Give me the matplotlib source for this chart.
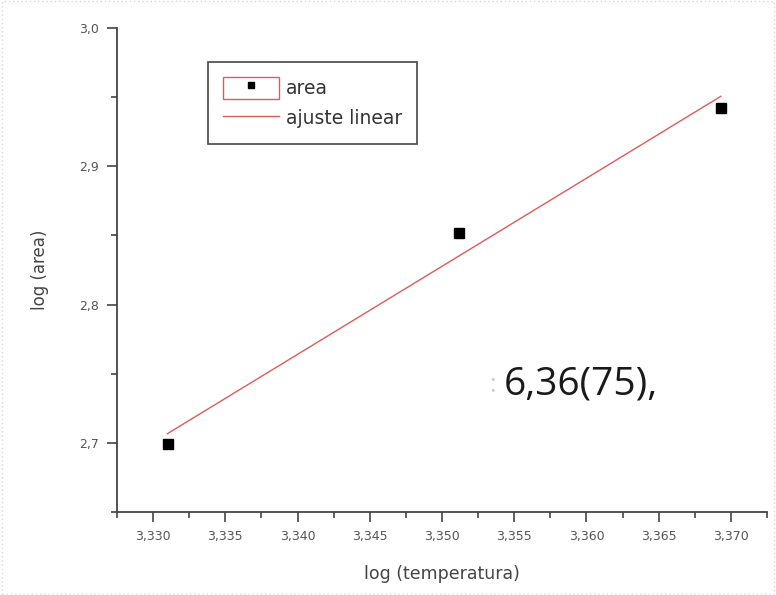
import matplotlib
matplotlib.use("Agg")
import matplotlib.pyplot as plt
import numpy as np
from matplotlib.lines import Line2D
from matplotlib.patches import Patch, Rectangle
from matplotlib.legend_handler import HandlerTuple
from matplotlib.ticker import MultipleLocator, FuncFormatter

# data
log_temp = [3.3310, 3.3512, 3.3693]
log_area = [2.699, 2.8516, 2.942]
slope_text = "6,36(75),"

x_major = 0.005
y_major = 0.1

plt.rcParams["font.family"] = ["DejaVu Sans"]

fig = plt.figure(figsize=(7.76, 5.95), dpi=100)
ax = fig.add_axes([117 / 776, 83 / 595, 650 / 776, 484 / 595])

# faint dotted slide border
fig.patches.append(Rectangle((0.002, 0.002), 0.996, 0.996, transform=fig.transFigure,
                             fill=False, edgecolor="#d8d8d8", linestyle=(0, (1, 2)),
                             linewidth=1))

# linear fit
coef = np.polyfit(log_temp, log_area, 1)
xf = np.array([log_temp[0], log_temp[-1]])
fit_line, = ax.plot(xf, np.polyval(coef, xf), color="#e05a5a", linewidth=1.0, zorder=2)

ax.plot(log_temp, log_area, linestyle="none", marker="s", markersize=7,
        color="black", zorder=3)

# axes look
ax.set_xlim(3.3275, 3.3725)
ax.set_ylim(2.65, 3.0)
ax.spines["top"].set_visible(False)
ax.spines["right"].set_visible(False)
for s in ("left", "bottom"):
    ax.spines[s].set_color("#444444")
    ax.spines[s].set_linewidth(1.3)

ax.xaxis.set_major_locator(MultipleLocator(x_major))
ax.xaxis.set_minor_locator(MultipleLocator(x_major / 2))
ax.yaxis.set_major_locator(MultipleLocator(y_major))
ax.yaxis.set_minor_locator(MultipleLocator(y_major / 2))
ax.xaxis.set_major_formatter(FuncFormatter(lambda v, p: f"{v:.3f}".replace(".", ",")))
ax.yaxis.set_major_formatter(FuncFormatter(lambda v, p: f"{v:.1f}".replace(".", ",")))

ax.tick_params(which="major", direction="out", length=7, width=1.2,
               color="#444444", labelsize=9, labelcolor="#555555", pad=6)
ax.tick_params(which="minor", direction="out", length=4, width=1.2, color="#444444")

ax.set_xlabel("log (temperatura)", fontsize=12.5, color="#444444", labelpad=16)
ax.set_ylabel("log (area)", fontsize=12, color="#444444", labelpad=22)

# legend, Origin style
area_handle = (Patch(facecolor="white", edgecolor="#e05a5a", linewidth=1),
               Line2D([], [], marker="s", color="black", linestyle="none", markersize=5))
leg = ax.legend([area_handle, fit_line], ["area", "ajuste linear"],
                handler_map={tuple: HandlerTuple(ndivide=1)},
                loc="upper left", bbox_to_anchor=(0.14, 0.93), borderaxespad=0,
                fontsize=13.5, handlelength=3.0, handleheight=1.4, handletextpad=0.35,
                labelspacing=0.45, borderpad=0.8, fancybox=False, framealpha=1,
                edgecolor="#555555")
leg.get_frame().set_linewidth(1.3)
for t in leg.get_texts():
    t.set_color("#333333")

# pasted slope text
fig.text(489 / 776, 1 - 385 / 595, ":", fontsize=18, color="#cccccc",
         ha="left", va="center", family="Open Sans")
fig.text(504 / 776, 1 - 385 / 595, slope_text, fontsize=28, color="#1a1a1a",
         ha="left", va="center", family="Open Sans")

fig.savefig("out.png", dpi=100)
